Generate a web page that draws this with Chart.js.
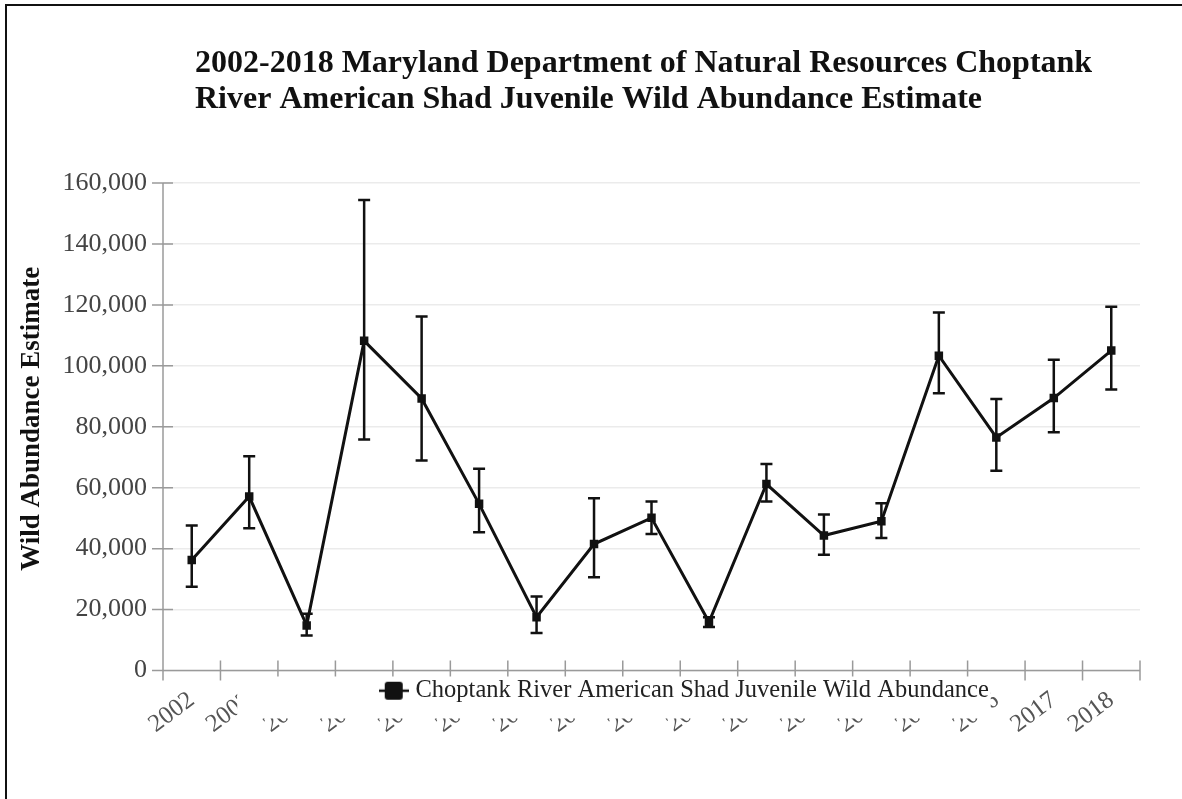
<!DOCTYPE html>
<html>
<head>
<meta charset="utf-8">
<script src="https://cdn.jsdelivr.net/npm/chart.js@4.4.1/dist/chart.umd.min.js"></script>
<style>
html, body { margin: 0; padding: 0; background: #fff; }
#wrap { position: relative; width: 1182px; height: 799px; overflow: hidden; background: #fff; }
#frame { position: absolute; left: 5px; top: 4px; width: 1200px; height: 820px; border-left: 2.5px solid #111; border-top: 2.5px solid #111; pointer-events: none; }
#c { position: absolute; left: 0; top: 0; }
</style>
</head>
<body>
<div id="wrap">
  <div id="frame"></div>
  <canvas id="c" width="1182" height="799"></canvas>
</div>
<script>
// ---- data ----
const years = ['2002','2003','2004','2005','2006','2007','2008','2009','2010','2011','2012','2013','2014','2015','2016','2017','2018'];
const estimates   = [36300, 57100, 14800, 108200, 89300, 54700, 17500, 41500, 50100, 15900, 61200, 44300, 49000, 103300, 76500, 89400, 105000];
const lowerBounds = [27500, 46700, 11500,  75800, 68900, 45400, 12300, 30600, 44800, 14300, 55500, 38000, 43500,  91000, 65600, 78200,  92200];
const upperBounds = [47600, 70300, 18600, 154400, 116200, 66200, 24300, 56500, 55500, 17500, 67800, 51200, 54900, 117500, 89100, 102000, 119400];
const yMin = 0;
const yMax = 160000;
const yStep = 20000;
const titleLines = ['2002-2018 Maryland Department of Natural Resources Choptank', 'River American Shad Juvenile Wild Abundance Estimate'];
const seriesLabel = 'Choptank River American Shad Juvenile Wild Abundance';
const yAxisTitle = 'Wild Abundance Estimate';

// ---- styling ----
const SERIF = '"Liberation Serif", "Times New Roman", serif';
Chart.defaults.font.family = SERIF;
const INK = '#111';

// legend icon: line with a square marker
const icon = document.createElement('canvas');
icon.width = 30; icon.height = 20;
(function () {
  const g = icon.getContext('2d');
  g.strokeStyle = INK; g.lineWidth = 2.5;
  g.beginPath(); g.moveTo(0, 10); g.lineTo(30, 10); g.stroke();
  g.fillStyle = INK;
  g.beginPath();
  if (g.roundRect) g.roundRect(6, 1, 18, 18, 3); else g.rect(6, 1, 18, 18);
  g.fill();
})();

const placePlugin = {
  id: 'place',
  beforeDraw(chart) {
    const a = chart.chartArea;
    const t = chart.titleBlock;
    if (t) { t.left = a.left + 32; }
    const lg = chart.legend;
    if (lg) {
      const h = lg.bottom - lg.top;
      lg.left = a.left + 35; lg.right = a.right + 35;
      lg.top = a.bottom + 2; lg.bottom = lg.top + h;
    }
    const y = chart.scales.y;
    y.top = a.top - 8; y.bottom = a.bottom - 8;
  },
  afterDraw(chart) {
    // legend box sits over the slanted year labels, as in the original rendering
    const { ctx, chartArea: a, scales: { x } } = chart;
    const lg = chart.legend;
    if (!lg) return;
    const pad = lg.options.labels.padding;
    const lw = lg.lineWidths[0];
    const startX = (lg.left + pad + lg.right - lw) / 2;
    const endX = startX + lw - pad;
    const boxLeft = x.getPixelForValue(1) - 12;
    ctx.save();
    ctx.fillStyle = '#fff';
    ctx.fillRect(boxLeft, a.bottom + 6, endX + 2 - boxLeft, 42);
    ctx.restore();
    lg.draw(a);
  }
};

const axisPlugin = {
  id: 'axisLines',
  beforeDatasetsDraw(chart) {
    const { ctx, chartArea: a, scales: { x, y } } = chart;
    ctx.save();
    ctx.strokeStyle = '#9a9a9a';
    ctx.lineWidth = 1.5;
    ctx.beginPath();
    ctx.moveTo(a.left, a.top); ctx.lineTo(a.left, a.bottom + 10);
    ctx.moveTo(a.left - 11, a.bottom); ctx.lineTo(a.right, a.bottom);
    y.ticks.forEach(t => {
      const py = y.getPixelForValue(t.value);
      ctx.moveTo(a.left - 11, py); ctx.lineTo(a.left + 10, py);
    });
    for (let i = 0; i <= years.length; i++) {
      const px = x.getPixelForValue(i - 0.5);
      ctx.moveTo(px, a.bottom - 10); ctx.lineTo(px, a.bottom + 10);
    }
    ctx.stroke();
    ctx.restore();
  }
};

const errorBarPlugin = {
  id: 'errorBars',
  afterDatasetsDraw(chart) {
    const { ctx, scales: { x, y } } = chart;
    ctx.save();
    ctx.strokeStyle = INK;
    ctx.lineWidth = 2.5;
    years.forEach((yr, i) => {
      const px = x.getPixelForValue(i);
      const top = y.getPixelForValue(upperBounds[i]);
      const bot = y.getPixelForValue(lowerBounds[i]);
      ctx.beginPath();
      ctx.moveTo(px, top); ctx.lineTo(px, bot);
      ctx.moveTo(px - 6, top); ctx.lineTo(px + 6, top);
      ctx.moveTo(px - 6, bot); ctx.lineTo(px + 6, bot);
      ctx.stroke();
    });
    ctx.restore();
  }
};

new Chart(document.getElementById('c'), {
  type: 'line',
  data: {
    labels: years,
    datasets: [{
      label: seriesLabel,
      data: estimates,
      borderColor: INK,
      backgroundColor: INK,
      borderWidth: 3,
      pointStyle: 'rect',
      pointRadius: 6,
      pointHoverRadius: 6,
      pointBorderWidth: 0,
      tension: 0,
      fill: false
    }]
  },
  options: {
    responsive: false,
    animation: false,
    devicePixelRatio: 1,
    layout: { padding: { left: 0, right: 42, top: 0, bottom: 8 } },
    plugins: {
      title: {
        display: true,
        text: titleLines,
        align: 'start',
        color: INK,
        font: { family: SERIF, size: 32, weight: 'bold', lineHeight: 36 / 32 },
        padding: { top: 46, bottom: 65 }
      },
      legend: {
        position: 'bottom',
        fullSize: false,
        align: 'center',
        labels: {
          usePointStyle: true,
          pointStyle: icon,
          pointStyleWidth: 19,
          padding: 6,
          color: '#222',
          font: { family: SERIF, size: 24.5 }
        }
      },
      tooltip: { enabled: false }
    },
    scales: {
      x: {
        offset: true,
        grid: { display: false, offset: true },
        border: { display: false },
        ticks: {
          autoSkip: false,
          maxRotation: 37,
          minRotation: 37,
          padding: 7,
          color: '#555',
          font: { family: SERIF, size: 25 }
        },
        afterFit(s) { s.height = 80; }
      },
      y: {
        min: yMin,
        max: yMax,
        ticks: { stepSize: yStep, padding: 16, color: '#444', font: { family: SERIF, size: 26 } },
        grid: { color: '#ebebeb', lineWidth: 1.5, drawTicks: false },
        border: { display: false },
        title: {
          display: true,
          text: yAxisTitle,
          color: INK,
          font: { family: SERIF, size: 27, weight: 'bold' },
          padding: { top: 16, bottom: 0 }
        },
        afterFit(s) { s.width = 163; }
      }
    }
  },
  plugins: [placePlugin, axisPlugin, errorBarPlugin]
});
</script>
</body>
</html>
